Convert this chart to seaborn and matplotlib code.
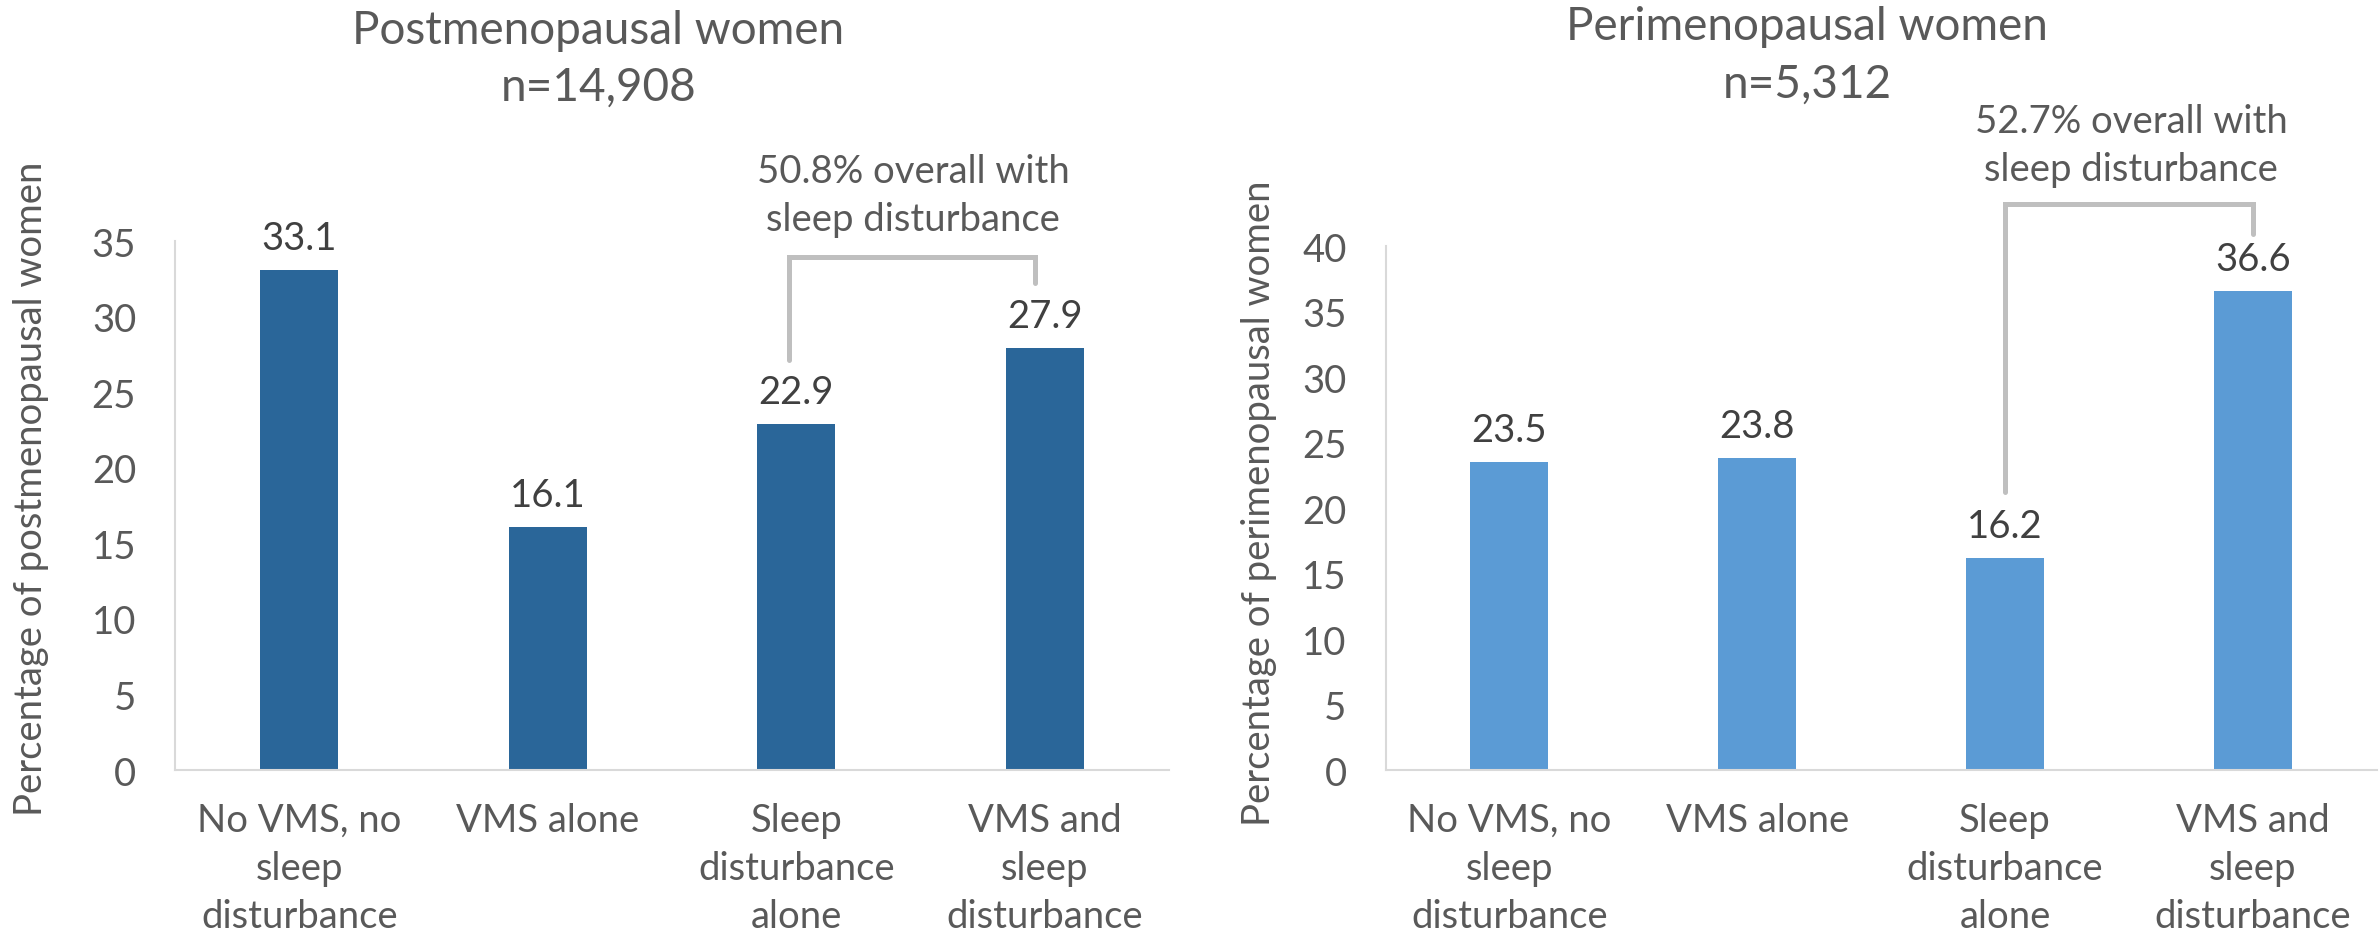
import matplotlib
matplotlib.use("Agg")
import matplotlib.pyplot as plt
import seaborn as sns
import pandas as pd

# Categories and percentages for each group
categories = [
    "No VMS, no\nsleep\ndisturbance",
    "VMS alone",
    "Sleep\ndisturbance\nalone",
    "VMS and\nsleep\ndisturbance",
]
post_values = [33.1, 16.1, 22.9, 27.9]
peri_values = [23.5, 23.8, 16.2, 36.6]

post_title = "Postmenopausal women\nn=14,908"
peri_title = "Perimenopausal women\nn=5,312"
post_ylabel = "Percentage of postmenopausal women"
peri_ylabel = "Percentage of perimenopausal women"
post_note = "50.8% overall with\nsleep disturbance"
peri_note = "52.7% overall with\nsleep disturbance"
post_ticks = [0, 5, 10, 15, 20, 25, 30, 35]
peri_ticks = [0, 5, 10, 15, 20, 25, 30, 35, 40]

sns.set_theme(style="white")
plt.rcParams["font.family"] = ["Lato", "DejaVu Sans"]

TEXT = "#595959"
LABEL = "#404040"
SPINE = "#D9D9D9"
BRACKET = "#BFBFBF"
FS = 27.5

fig = plt.figure(figsize=(23.79, 9.45), dpi=100)
ax1 = fig.add_axes([0.0736, 0.1841, 0.4178, 0.5598])
ax2 = fig.add_axes([0.5824, 0.1841, 0.4166, 0.5545])


def draw_panel(ax, values, color, ticks, ylabel, label_xy):
    df = pd.DataFrame({"cat": categories, "val": values})
    sns.barplot(data=df, x="cat", y="val", order=categories, color=color,
                width=0.315, saturation=1, ax=ax, edgecolor="none")
    ax.set_xlim(-0.5, 3.5)
    ax.set_ylim(0, ticks[-1])
    ax.set_yticks(ticks)
    ax.set_xlabel("")
    ax.set_ylabel(ylabel, fontsize=FS, color=TEXT, va="center")
    ax.yaxis.set_label_coords(*label_xy)
    ax.tick_params(axis="y", length=0, pad=28, labelsize=FS, labelcolor=TEXT)
    ax.tick_params(axis="x", length=0, pad=23, labelsize=FS, labelcolor=TEXT)
    for t in ax.get_xticklabels():
        t.set_linespacing(1.42)
    for s in ["top", "right"]:
        ax.spines[s].set_visible(False)
    for s in ["left", "bottom"]:
        ax.spines[s].set_color(SPINE)
        ax.spines[s].set_linewidth(1.5)
    for c in ax.containers:
        ax.bar_label(c, labels=[f"{v:.1f}" for v in values], padding=10,
                     fontsize=FS, color=LABEL)
    ax.set_facecolor("white")


draw_panel(ax1, post_values, "#2A6699", post_ticks, post_ylabel, (-0.145, 0.533))
draw_panel(ax2, peri_values, "#5B9BD5", peri_ticks, peri_ylabel, (-0.128, 0.511))

# Brackets grouping the sleep-disturbance categories
def bracket(ax, x0, x1, y_top, y0, y1, note, note_x, note_y):
    ax.plot([x0, x0, x1, x1], [y0, y_top, y_top, y1], color=BRACKET,
            lw=3.6, clip_on=False, solid_joinstyle="miter")
    ax.text(note_x, note_y, note, ha="center", va="center", fontsize=FS,
            color=TEXT, linespacing=1.4, clip_on=False)

bracket(ax1, 1.97, 2.96, 33.95, 27.1, 32.2, post_note, 2.47, 38.05)
bracket(ax2, 2.0, 3.0, 43.2, 21.2, 40.9, peri_note, 2.51, 47.7)

fig.text(0.2515, 0.937, post_title, ha="center", va="center", fontsize=33,
         color=TEXT, linespacing=1.45)
fig.text(0.7597, 0.941, peri_title, ha="center", va="center", fontsize=33,
         color=TEXT, linespacing=1.45)

fig.savefig("out.png", dpi=100, facecolor="white")
